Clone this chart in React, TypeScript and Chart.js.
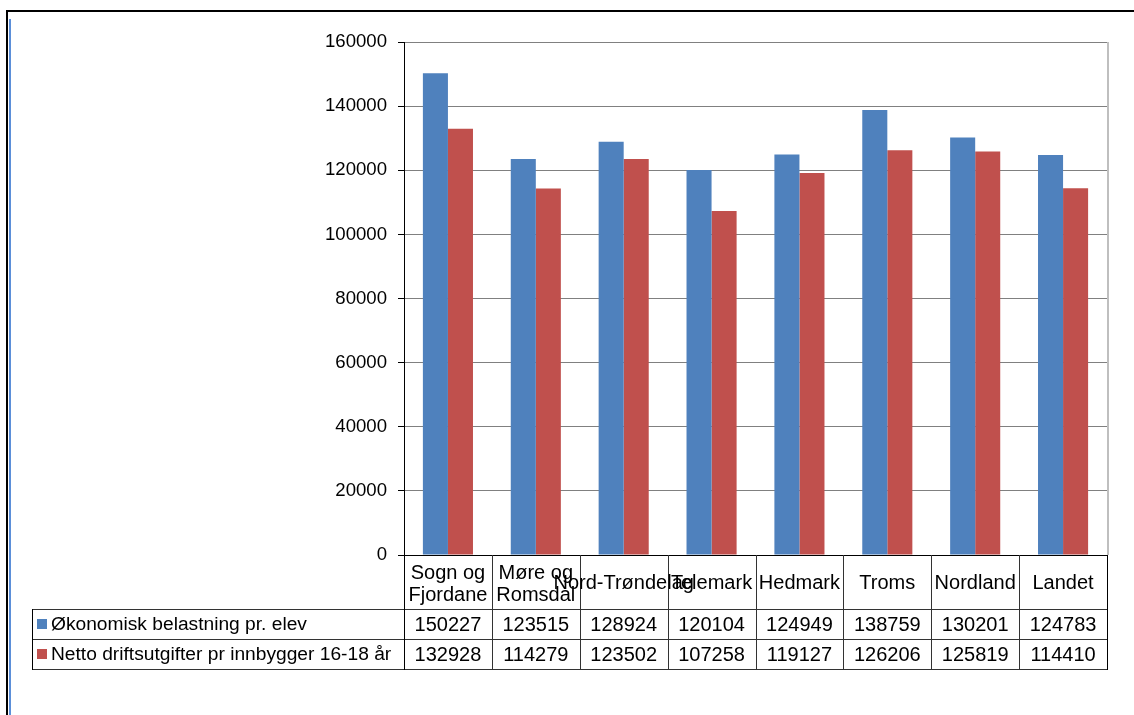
import React, { useEffect, useRef } from "react";
import { Chart, registerables } from "chart.js";

Chart.register(...registerables);

const categories: string[][] = [
  ["Sogn og", "Fjordane"],
  ["Møre og", "Romsdal"],
  ["Nord-Trøndelag"],
  ["Telemark"],
  ["Hedmark"],
  ["Troms"],
  ["Nordland"],
  ["Landet"],
];

const seriesNames = [
  "Økonomisk belastning pr. elev",
  "Netto driftsutgifter pr innbygger 16-18 år",
];

const belastning = [150227, 123515, 128924, 120104, 124949, 138759, 130201, 124783];
const driftsutgifter = [132928, 114279, 123502, 107258, 119127, 126206, 125819, 114410];

const seriesColors = ["#4F81BD", "#C0504D"];

const yTicks = [0, 20000, 40000, 60000, 80000, 100000, 120000, 140000, 160000];

const FONT = "'Liberation Sans', Arial, sans-serif";

// Data table under the plot, plus the outer frame of the sheet
const tablePlugin = {
  id: "dataTable",
  beforeDraw(chart: any) {
    const ctx = chart.ctx as CanvasRenderingContext2D;
    ctx.save();
    ctx.fillStyle = "#000";
    ctx.fillRect(6, 10, 1134, 2);
    ctx.fillRect(6, 10, 2, 715);
    ctx.fillStyle = "#5B8FD9";
    ctx.fillRect(9, 19, 2, 715);
    ctx.restore();
  },
  afterDraw(chart: any) {
    const ctx = chart.ctx as CanvasRenderingContext2D;
    const area = chart.chartArea;
    const x = chart.scales.x;
    const left = Math.round(area.left);
    const right = Math.round(area.right);
    const top = Math.round(area.bottom);
    const headerBottom = top + 54;
    const row1Bottom = headerBottom + 30;
    const row2Bottom = row1Bottom + 30;
    const legendLeft = 32;
    const n = categories.length;
    const colW = (right - left) / n;

    ctx.save();
    // right edge of plot area
    ctx.fillStyle = "#BFBFBF";
    ctx.fillRect(right, Math.round(area.top), 2, top - Math.round(area.top));

    ctx.lineWidth = 1;
    const hline = (x1: number, x2: number, y: number) => {
      ctx.beginPath();
      ctx.moveTo(x1, y + 0.5);
      ctx.lineTo(x2, y + 0.5);
      ctx.stroke();
    };
    const vline = (xx: number, y1: number, y2: number) => {
      ctx.beginPath();
      ctx.moveTo(Math.round(xx) + 0.5, y1);
      ctx.lineTo(Math.round(xx) + 0.5, y2);
      ctx.stroke();
    };
    ctx.strokeStyle = "#000";
    hline(left - 6, right + 1, top);
    ctx.strokeStyle = "#333";
    hline(legendLeft, right + 1, headerBottom);
    hline(legendLeft, right + 1, row1Bottom);
    hline(legendLeft, right + 1, row2Bottom);
    for (let i = 0; i <= n; i++) {
      ctx.strokeStyle = i === 0 || i === n ? "#000" : "#333";
      vline(left + colW * i, top, row2Bottom + 1);
    }
    vline(legendLeft, headerBottom, row2Bottom + 1);

    ctx.fillStyle = "#000";
    ctx.font = `20px ${FONT}`;
    ctx.textAlign = "center";
    ctx.textBaseline = "middle";
    categories.forEach((lines, i) => {
      const cx = x.getPixelForValue(i);
      const mid = (top + headerBottom) / 2 + 1;
      if (lines.length === 1) {
        ctx.fillText(lines[0], cx, mid);
      } else {
        ctx.fillText(lines[0], cx, mid - 10);
        ctx.fillText(lines[1], cx, mid + 12);
      }
    });
    const rows = [belastning, driftsutgifter];
    const rowMids = [(headerBottom + row1Bottom) / 2 + 1, (row1Bottom + row2Bottom) / 2 + 1];
    rows.forEach((vals, r) => {
      vals.forEach((v, i) => {
        ctx.fillText(String(v), x.getPixelForValue(i), rowMids[r]);
      });
    });
    ctx.textAlign = "left";
    ctx.font = `19.2px ${FONT}`;
    seriesNames.forEach((name, r) => {
      ctx.fillStyle = seriesColors[r];
      ctx.fillRect(37, Math.round(rowMids[r]) - 6, 10, 10);
      ctx.fillStyle = "#000";
      ctx.fillText(name, 51, rowMids[r]);
    });
    ctx.restore();
  },
};

export default function App() {
  const ref = useRef<HTMLCanvasElement>(null);
  useEffect(() => {
    if (!ref.current) return;
    const chart = new Chart(ref.current, {
      type: "bar",
      data: {
        labels: categories.map((c) => c.join(" ")),
        datasets: [
          {
            label: seriesNames[0],
            data: belastning,
            backgroundColor: seriesColors[0],
            borderWidth: 0,
          },
          {
            label: seriesNames[1],
            data: driftsutgifter,
            backgroundColor: seriesColors[1],
            borderWidth: 0,
          },
        ],
      },
      options: {
        animation: false,
        responsive: false,
        maintainAspectRatio: false,
        layout: { padding: { top: 42, right: 27, bottom: 160, left: 0 } },
        plugins: {
          legend: { display: false },
          tooltip: { enabled: false },
        },
        datasets: {
          bar: { categoryPercentage: 0.57, barPercentage: 1 },
        },
        scales: {
          x: { display: false },
          y: {
            min: yTicks[0],
            max: yTicks[yTicks.length - 1],
            afterFit: (scale: any) => {
              scale.width = 404;
            },
            afterBuildTicks: (scale: any) => {
              scale.ticks = yTicks.map((v) => ({ value: v }));
            },
            ticks: {
              padding: 11,
              color: "#000",
              font: { family: FONT, size: 18.6 },
              callback: (v: any) => String(v),
            },
            grid: {
              color: (c: any) => (c.tick && c.tick.value === 0 ? "#000" : "#808080"),
              tickColor: "#000",
              tickLength: 6,
              lineWidth: 1,
            },
            border: { color: "#000", width: 1 },
          },
        },
      },
      plugins: [tablePlugin],
    });
    return () => chart.destroy();
  }, []);
  return (
    <div style={{ position: "fixed", left: 0, top: 0, width: 1134, height: 715, background: "#fff" }}>
      <canvas ref={ref} width={1134} height={715} style={{ display: "block" }} />
    </div>
  );
}
